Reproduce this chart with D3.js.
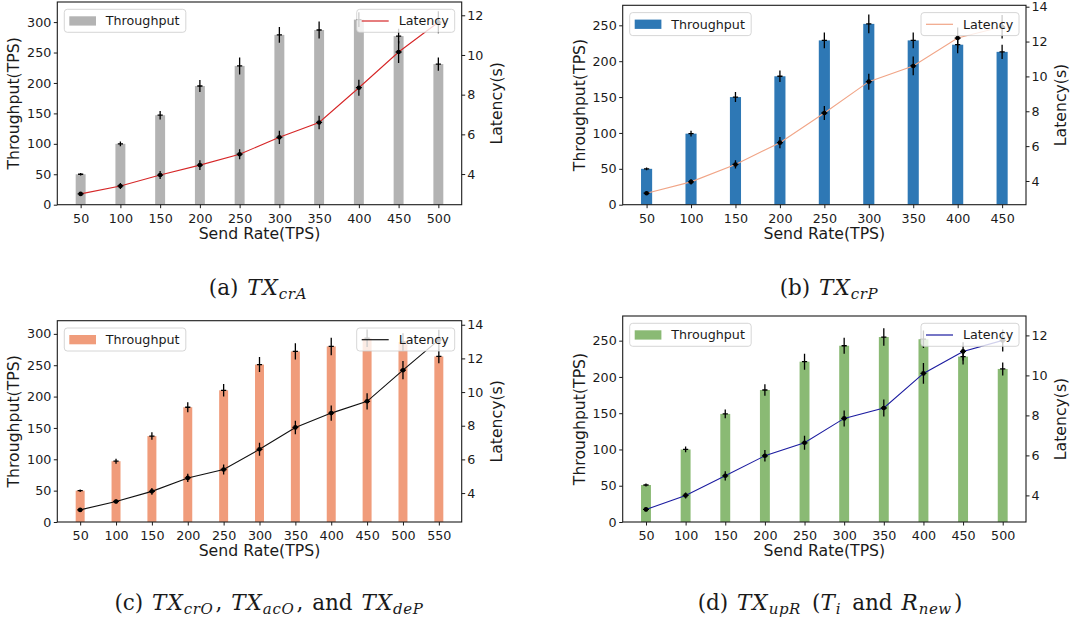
<!DOCTYPE html>
<html lang="en">
<head>
<meta charset="UTF-8">
<title>Throughput and Latency vs Send Rate</title>
<script src="https://d3js.org/d3.v7.min.js"></script>
<style>
  body { margin: 0; background: #fff; }
  svg text { font-family: 'DejaVu Sans', sans-serif; fill: #1a1a1a; }
  svg text.cap { font-family: 'DejaVu Serif', 'Liberation Serif', serif; }
</style>
</head>
<body>
<svg id="chart" width="1087" height="623"></svg>
<script>
// --- Data ---
const sendRateA = [50, 100, 150, 200, 250, 300, 350, 400, 450, 500];
const throughputA = [50, 100, 147, 195, 228, 279, 287, 304, 277, 231];
const throughputErrA = [2, 4, 7, 10, 14, 13, 14, 12, 12, 11];
const latencyA = [3.0, 3.4, 3.95, 4.45, 5.0, 5.85, 6.6, 8.35, 10.15, 11.65];
const latencyErrA = [0.1, 0.15, 0.2, 0.25, 0.25, 0.33, 0.34, 0.4, 0.56, 0.55];

const sendRateB = [50, 100, 150, 200, 250, 300, 350, 400, 450];
const throughputB = [50, 99, 150, 179, 229, 252, 229, 223, 213];
const throughputErrB = [2, 4, 7, 8, 11, 13, 11, 12, 10];
const latencyB = [3.3, 3.95, 4.95, 6.2, 7.9, 9.7, 10.6, 12.2, 12.85];
const latencyErrB = [0.1, 0.15, 0.24, 0.32, 0.4, 0.46, 0.54, 0.6, 0.67];

const sendRateC = [50, 100, 150, 200, 250, 300, 350, 400, 450, 500, 550];
const throughputC = [50, 97, 137, 183, 210, 251, 272, 280, 293, 287, 264];
const throughputErrC = [2, 4, 6, 8, 10, 12, 13, 14, 14, 14, 11];
const latencyC = [3.0, 3.5, 4.1, 4.9, 5.4, 6.6, 7.9, 8.75, 9.45, 11.3, 13.1];
const latencyErrC = [0.1, 0.12, 0.2, 0.25, 0.3, 0.39, 0.4, 0.45, 0.48, 0.54, 0.6];

const sendRateD = [50, 100, 150, 200, 250, 300, 350, 400, 450, 500];
const throughputD = [51, 100, 149, 182, 221, 243, 255, 252, 228, 211];
const throughputErrD = [2, 4, 6, 8, 11, 11, 12, 12, 11, 9];
const latencyD = [3.3, 4.0, 4.98, 5.98, 6.63, 7.85, 8.37, 10.1, 11.2, 11.75];
const latencyErrD = [0.1, 0.15, 0.23, 0.29, 0.35, 0.4, 0.42, 0.52, 0.46, 0.55];

const leftTicksA = [0, 50, 100, 150, 200, 250, 300];
const leftTicksB = [0, 50, 100, 150, 200, 250];
const rightTicksA = [4, 6, 8, 10, 12];
const rightTicksB = [4, 6, 8, 10, 12, 14];

// --- Panels ---
const panels = [
  { x: sendRateA, tp: throughputA, tpErr: throughputErrA, lat: latencyA, latErr: latencyErrA,
    left: 57.3, right: 461.7, top: 2, bottom: 204.7, yL: [0, 333], yR: [2.455, 12.67],
    lTicks: leftTicksA, rTicks: rightTicksA, bar: '#b3b3b3', line: '#d62728',
    caption: ['(a) ', ['TX', 'crA']], capX: 259, capY: 295 },
  { x: sendRateB, tp: throughputB, tpErr: throughputErrB, lat: latencyB, latErr: latencyErrB,
    left: 622.7, right: 1026, top: 5.3, bottom: 204.7, yL: [0, 277.9], yR: [2.64, 14.08],
    lTicks: leftTicksB, rTicks: rightTicksB, bar: '#2e78b5', line: '#f1a587',
    caption: ['(b) ', ['TX', 'crP']], capX: 830, capY: 295 },
  { x: sendRateC, tp: throughputC, tpErr: throughputErrC, lat: latencyC, latErr: latencyErrC,
    left: 57.3, right: 461.7, top: 320.7, bottom: 522, yL: [0, 321], yR: [2.28, 14.24],
    lTicks: leftTicksA, rTicks: rightTicksB, bar: '#f09c7b', line: '#111111',
    caption: ['(c) ', ['TX', 'crO'], ', ', ['TX', 'acO'], ', and ', ['TX', 'deP']], capX: 270, capY: 610 },
  { x: sendRateD, tp: throughputD, tpErr: throughputErrD, lat: latencyD, latErr: latencyErrD,
    left: 622.7, right: 1026, top: 316, bottom: 522, yL: [0, 284], yR: [2.67, 12.97],
    lTicks: leftTicksB, rTicks: rightTicksA, bar: '#8aba74', line: '#1c1ca0',
    caption: ['(d) ', ['TX', 'upR'], ' (', ['T', 'i'], ' and ', ['R', 'new'], ')'], capX: 830, capY: 610 }
];

const svg = d3.select('#chart');
svg.append('rect').attr('width', 1087).attr('height', 623).attr('fill', '#fff');

const tickFont = '12.7px';
const labelFont = '15.7px';

function drawPanel(p) {
  const n = p.x.length;
  const idx = d3.range(n);
  const pad = 0.05 * (n - 1 + 0.25);
  const x = d3.scaleLinear().domain([-0.125 - pad, n - 1 + 0.125 + pad]).range([p.left, p.right]);
  const yL = d3.scaleLinear().domain(p.yL).range([p.bottom, p.top]);
  const yR = d3.scaleLinear().domain(p.yR).range([p.bottom, p.top]);
  const bw = x(0.25) - x(0);

  const g = svg.append('g');
  const clipId = 'clip' + Math.round(p.left) + Math.round(p.top);
  g.append('clipPath').attr('id', clipId).append('rect')
    .attr('x', p.left).attr('y', p.top).attr('width', p.right - p.left).attr('height', p.bottom - p.top);
  const plot = g.append('g').attr('clip-path', `url(#${clipId})`);

  // bars
  plot.selectAll('rect.bar').data(idx).join('rect')
    .attr('class', 'bar')
    .attr('x', i => x(i) - bw / 2)
    .attr('width', bw)
    .attr('y', i => yL(p.tp[i]))
    .attr('height', i => yL(0) - yL(p.tp[i]))
    .attr('fill', p.bar);

  // throughput error bars
  const te = plot.append('g').attr('stroke', '#000').attr('stroke-width', 1.3);
  te.selectAll('line.v').data(idx).join('line')
    .attr('x1', i => x(i)).attr('x2', i => x(i))
    .attr('y1', i => yL(p.tp[i] - p.tpErr[i])).attr('y2', i => yL(p.tp[i] + p.tpErr[i]));
  te.selectAll('line.h').data(idx).join('line')
    .attr('x1', i => x(i) - 2.6).attr('x2', i => x(i) + 2.6)
    .attr('y1', i => yL(p.tp[i])).attr('y2', i => yL(p.tp[i]));

  // legend (throughput), belongs to left axes
  const legL = g.append('g');
  const tpW = 6.5 + 36.5 + 74 + 6;
  legL.append('rect').attr('x', p.left + 7).attr('y', p.top + 7.3).attr('width', tpW - 1.5).attr('height', 23)
    .attr('rx', 3).attr('fill', '#fff').attr('fill-opacity', 0.8).attr('stroke', '#cccccc').attr('stroke-width', 0.8);
  legL.append('rect').attr('x', p.left + 12).attr('y', p.top + 14.3).attr('width', 26.7).attr('height', 9.3).attr('fill', p.bar);
  legL.append('text').attr('x', p.left + 48.5).attr('y', p.top + 23.3).style('font-size', tickFont).text('Throughput');

  // latency line + error bars (right axes, drawn on top)
  const plot2 = g.append('g').attr('clip-path', `url(#${clipId})`);
  const line = d3.line().x(i => x(i)).y(i => yR(p.lat[i]));
  plot2.append('path').datum(idx).attr('d', line).attr('fill', 'none')
    .attr('stroke', p.line).attr('stroke-width', 1.1);
  const le = plot2.append('g').attr('stroke', '#000').attr('stroke-width', 1.3);
  le.selectAll('line.v').data(idx).join('line')
    .attr('x1', i => x(i)).attr('x2', i => x(i))
    .attr('y1', i => yR(p.lat[i] - p.latErr[i])).attr('y2', i => yR(p.lat[i] + p.latErr[i]));
  le.selectAll('line.h').data(idx).join('line')
    .attr('x1', i => x(i) - 3).attr('x2', i => x(i) + 3)
    .attr('y1', i => yR(p.lat[i])).attr('y2', i => yR(p.lat[i]));
  plot2.selectAll('circle').data(idx).join('circle')
    .attr('cx', i => x(i)).attr('cy', i => yR(p.lat[i])).attr('r', 2.3).attr('fill', '#000');

  // legend (latency)
  const latW = 98;
  const lx = p.right - 7 - latW;
  const legR = g.append('g');
  legR.append('rect').attr('x', lx).attr('y', p.top + 7.3).attr('width', latW).attr('height', 23)
    .attr('rx', 3).attr('fill', '#fff').attr('fill-opacity', 0.8).attr('stroke', '#cccccc').attr('stroke-width', 0.8);
  legR.append('line').attr('x1', lx + 5).attr('x2', lx + 32).attr('y1', p.top + 19).attr('y2', p.top + 19)
    .attr('stroke', p.line).attr('stroke-width', 1.2);
  legR.append('text').attr('x', lx + 42).attr('y', p.top + 23.3).style('font-size', tickFont).text('Latency');

  // frame
  g.append('rect').attr('x', p.left).attr('y', p.top).attr('width', p.right - p.left).attr('height', p.bottom - p.top)
    .attr('fill', 'none').attr('stroke', '#1a1a1a').attr('stroke-width', 1.1);

  // axes
  const ax = g.append('g').attr('transform', `translate(0,${p.bottom})`)
    .call(d3.axisBottom(x).tickValues(idx).tickFormat(i => p.x[i]).tickSize(3.5).tickPadding(5.5));
  const ayL = g.append('g').attr('transform', `translate(${p.left},0)`)
    .call(d3.axisLeft(yL).tickValues(p.lTicks).tickSize(3.5).tickPadding(2.5));
  const ayR = g.append('g').attr('transform', `translate(${p.right},0)`)
    .call(d3.axisRight(yR).tickValues(p.rTicks).tickSize(3.5).tickPadding(2));
  [ax, ayL, ayR].forEach(a => {
    a.select('.domain').remove();
    a.selectAll('line').attr('stroke', '#1a1a1a');
    a.selectAll('text').style('font-size', tickFont).attr('fill', '#1a1a1a')
      .style('font-family', "'DejaVu Sans', sans-serif");
  });

  // axis labels
  g.append('text').attr('x', (p.left + p.right) / 2).attr('y', p.bottom + 34).attr('text-anchor', 'middle')
    .style('font-size', labelFont).text('Send Rate(TPS)');
  g.append('text').attr('transform', `translate(${p.left - 38},${(p.top + p.bottom) / 2}) rotate(-90)`)
    .attr('text-anchor', 'middle').style('font-size', labelFont).text('Throughput(TPS)');
  g.append('text').attr('transform', `translate(${p.right + 40},${(p.top + p.bottom) / 2}) rotate(-90)`)
    .attr('text-anchor', 'middle').style('font-size', labelFont).text('Latency(s)');

  // caption
  const cap = g.append('text').attr('class', 'cap').attr('x', p.capX).attr('y', p.capY)
    .attr('text-anchor', 'middle').style('font-size', '21.5px').style('word-spacing', '2px');
  p.caption.forEach(part => {
    if (typeof part === 'string') {
      cap.append('tspan').text(part);
    } else {
      cap.append('tspan').style('font-style', 'italic').style('letter-spacing', '1px').text(part[0]);
      cap.append('tspan').style('font-style', 'italic').style('font-size', '15px').style('letter-spacing', '0.6px')
        .attr('dy', 4).text(part[1]);
      cap.append('tspan').attr('dy', -4).text('\u200A');
    }
  });
}

panels.forEach(drawPanel);
</script>
</body>
</html>
